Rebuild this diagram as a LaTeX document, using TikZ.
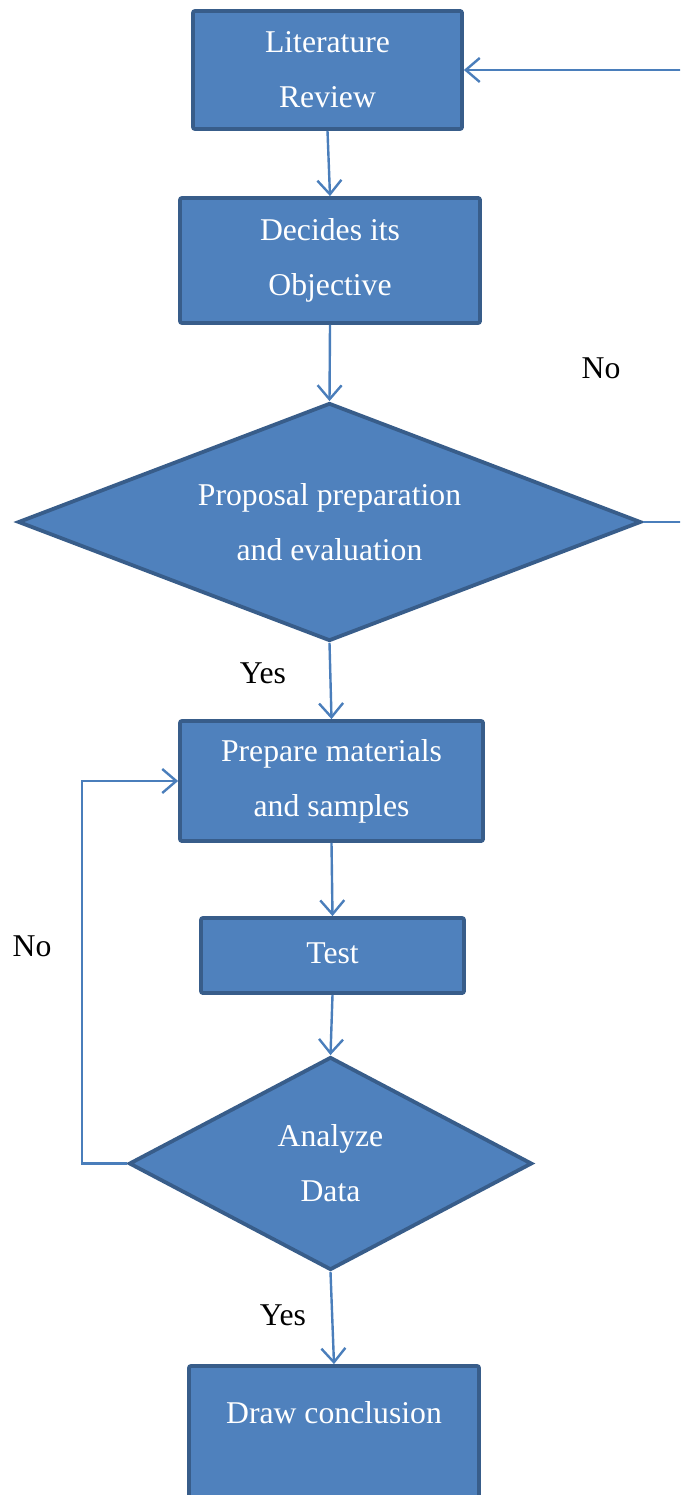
\documentclass[tikz,border=0pt]{standalone}
\usepackage{fontspec}
\setmainfont{Liberation Serif}
\usetikzlibrary{shapes.geometric,arrows.meta}
\definecolor{boxfill}{HTML}{4F81BD}
\definecolor{boxline}{HTML}{385D8A}
\definecolor{arrowcol}{HTML}{4A7EBB}
\begin{document}
\begin{tikzpicture}[x=1pt,y=-1pt,
  txt/.style={font=\fontsize{31.7}{55}\selectfont},
  stepbox/.style={txt,draw=boxline,fill=boxfill,line width=3.8pt,rounded corners=2pt,text=white,align=center,inner sep=0pt},
  decision/.style={txt,diamond,draw=boxline,fill=boxfill,line width=3.8pt,text=white,align=center,inner sep=0pt},
  conn/.style={draw=arrowcol,line width=2.4pt,-{Straight Barb[length=14pt,width=24pt,line width=2.4pt]}},
  lbl/.style={txt,text=black,inner sep=0pt}]
\useasboundingbox (0,0) rectangle (680,1495);
\clip (0,0) rectangle (680,1495);
\node[stepbox,minimum width=269pt,minimum height=118pt] (lr) at (327.5,70) {Literature\\Review};
\node[stepbox,minimum width=300pt,minimum height=125pt] (dec) at (330,260.5) {Decides its\\Objective};
\node[decision,aspect=2.62,minimum width=623pt,minimum height=238pt] (d1) at (329.5,522) {Proposal preparation\\and evaluation};
\node[stepbox,minimum width=303pt,minimum height=120pt] (pm) at (331.5,781) {Prepare materials\\and samples};
\node[stepbox,minimum width=263pt,minimum height=75pt] (test) at (332.5,955.5) {\raisebox{4pt}{Test}};
\node[decision,aspect=1.89,minimum width=403pt,minimum height=213pt] (d2) at (330.5,1163.5) {Analyze\\Data};
\node[stepbox,minimum width=290pt,minimum height=147pt] (dc) at (334,1439.5) {Draw conclusion\\\mbox{}};
\node[lbl] (no1) at (601,368) {No};
\node[lbl] (yes1) at (263,673) {Yes};
\node[lbl] (no2) at (32,946) {No};
\node[lbl] (yes2) at (283,1315) {Yes};
\coordinate (c1) at (700,522);
\coordinate (c2) at (700,70);
\coordinate (c3) at (82,1163.5);
\coordinate (c4) at (82,781);
\draw[conn] (lr.south) -- (dec.north);
\draw[conn] (dec.south) -- (d1.north);
\draw[conn] (d1.south) -- (pm.north);
\draw[conn] (pm.south) -- (test.north);
\draw[conn] (test.south) -- (d2.north);
\draw[conn] (d2.south) -- (dc.north);
\draw[conn] (d1.east) -- (c1) -- (c2) -- (lr.east);
\draw[conn] (d2.west) -- (c3) -- (c4) -- (pm.west);
\end{tikzpicture}
\end{document}
